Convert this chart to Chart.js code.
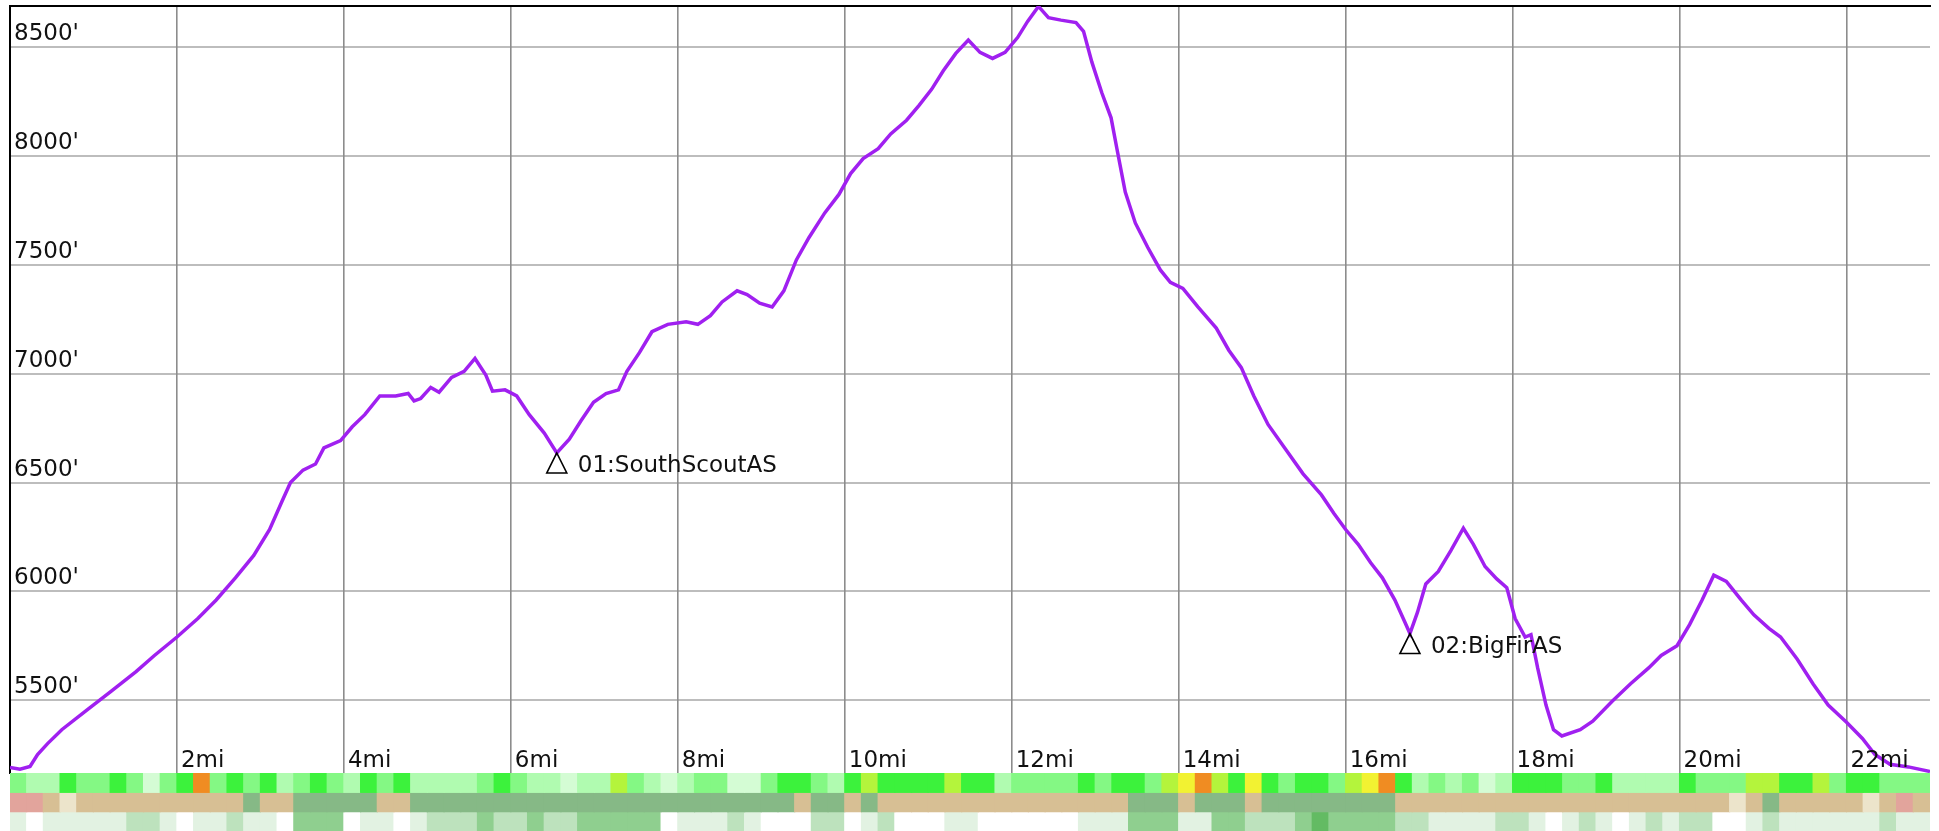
<!DOCTYPE html>
<html>
<head>
<meta charset="utf-8">
<script src="https://cdn.jsdelivr.net/npm/chart.js@4.4.1/dist/chart.umd.min.js"></script>
<style>
  html, body { margin: 0; padding: 0; background: #fff; overflow: hidden; }
</style>
</head>
<body>
<canvas id="profile" width="1939" height="831"></canvas>
<script>
// elevation profile, distance in miles / elevation in feet
var distMi = [0.00, 0.12, 0.24, 0.33, 0.45, 0.62, 0.92, 1.21, 1.51, 1.73,
  2.00, 2.25, 2.47, 2.70, 2.92, 3.11, 3.26, 3.36, 3.51, 3.66,
  3.76, 3.96, 4.10, 4.25, 4.43, 4.62, 4.77, 4.84, 4.92, 5.04,
  5.14, 5.29, 5.44, 5.57, 5.70, 5.78, 5.93, 6.07, 6.22, 6.40,
  6.55, 6.70, 6.84, 6.99, 7.14, 7.29, 7.39, 7.54, 7.69, 7.88,
  8.10, 8.24, 8.39, 8.53, 8.71, 8.83, 8.98, 9.13, 9.27, 9.42,
  9.57, 9.76, 9.93, 10.07, 10.22, 10.40, 10.55, 10.74, 10.89, 11.04,
  11.18, 11.33, 11.48, 11.62, 11.77, 11.92, 12.07, 12.19, 12.32, 12.44,
  12.59, 12.77, 12.86, 12.96, 13.08, 13.19, 13.26, 13.36, 13.48, 13.63,
  13.78, 13.90, 14.05, 14.23, 14.45, 14.60, 14.75, 14.90, 15.07, 15.27,
  15.49, 15.71, 15.86, 16.00, 16.15, 16.30, 16.44, 16.59, 16.71, 16.77,
  16.86, 16.96, 17.11, 17.26, 17.41, 17.53, 17.67, 17.81, 17.93, 18.03,
  18.15, 18.22, 18.30, 18.40, 18.49, 18.59, 18.81, 18.96, 19.19, 19.41,
  19.63, 19.78, 19.97, 20.12, 20.27, 20.41, 20.56, 20.74, 20.89, 21.07,
  21.21, 21.41, 21.60, 21.78, 22.00, 22.19, 22.34, 22.52, 22.74, 23.00];
var elevFt = [5190, 5182, 5195, 5250, 5300, 5364, 5454, 5540, 5631, 5705,
  5790, 5875, 5960, 6062, 6165, 6284, 6415, 6500, 6557, 6585,
  6659, 6693, 6756, 6812, 6898, 6898, 6909, 6875, 6886, 6937,
  6915, 6983, 7011, 7070, 6994, 6920, 6926, 6898, 6812, 6727,
  6636, 6699, 6784, 6869, 6909, 6926, 7011, 7097, 7193, 7227,
  7239, 7227, 7267, 7330, 7381, 7364, 7324, 7307, 7381, 7523,
  7625, 7739, 7824, 7920, 7989, 8034, 8102, 8165, 8233, 8307,
  8392, 8472, 8534, 8477, 8449, 8477, 8545, 8619, 8688, 8636,
  8625, 8614, 8574, 8432, 8290, 8176, 8034, 7835, 7693, 7580,
  7477, 7420, 7392, 7307, 7210, 7108, 7028, 6898, 6767, 6659,
  6540, 6443, 6358, 6284, 6216, 6131, 6062, 5960, 5858, 5806,
  5903, 6034, 6091, 6187, 6290, 6216, 6114, 6057, 6017, 5875,
  5790, 5801, 5648, 5477, 5364, 5335, 5364, 5403, 5494, 5574,
  5648, 5705, 5750, 5847, 5960, 6074, 6046, 5960, 5892, 5830,
  5790, 5688, 5574, 5477, 5398, 5324, 5250, 5205, 5193, 5172];

// axis ticks
var elevTicks = [5500, 6000, 6500, 7000, 7500, 8000, 8500];
var distTicks = [2, 4, 6, 8, 10, 12, 14, 16, 18, 20, 22];

// aid stations
var stationNames = ['01:SouthScoutAS', '02:BigFirAS'];
var stationMi = [6.55, 16.77];
var stationElev = [6636, 5806];

// strips below the profile, one code per 0.2 mi cell
var cellMi = 0.2;
var slopeCells = [2,1,1,3,2,2,3,2,0,2, 3,6,2,3,2,3,1,2,3,2, 1,3,2,3,1,1,1,1,2,3,
  2,1,1,0,1,1,4,2,1,0, 1,2,2,0,0,2,3,3,2,1, 3,4,3,3,3,3,4,3,3,1,
  2,2,2,2,3,2,3,3,2,4, 5,6,4,3,5,3,2,3,3,2, 4,5,6,3,1,2,1,2,0,1,
  3,3,3,2,2,3,1,1,1,1, 3,2,2,2,4,4,3,3,4,2, 3,3,2,2,2];
var coverCells = [2,2,0,3,0,0,0,0,0,0, 0,0,0,0,1,0,0,1,1,1, 1,1,0,0,1,1,1,1,1,1,
  1,1,1,1,1,1,1,1,1,1, 1,1,1,1,1,1,1,0,1,1, 0,1,0,0,0,0,0,0,0,0,
  0,0,0,0,0,0,0,1,1,1, 0,1,1,1,0,1,1,1,1,1, 1,1,1,0,0,0,0,0,0,0,
  0,0,0,0,0,0,0,0,0,0, 0,0,0,3,0,1,0,0,0,0, 0,3,0,2,0];
var canopyCells = [1,0,1,1,1,1,1,2,2,1, 0,1,1,2,1,1,0,3,3,3, 0,1,1,0,1,2,2,2,3,2,
  2,3,2,2,3,3,3,3,3,0, 1,1,1,2,1,0,0,0,2,2, 0,1,2,0,0,0,1,1,0,0,
  0,0,0,0,1,1,1,3,3,3, 1,1,3,3,2,2,2,3,4,3, 3,3,3,2,2,1,1,1,1,2,
  2,1,0,1,2,1,0,1,2,1, 2,2,0,0,1,2,1,1,1,1, 1,1,2,1,1];

var slopeColors = ['#d4fcd4', '#b0fbb0', '#84f884', '#3cf23c', '#b4f43c', '#f2f232', '#f08c22'];
var coverColors = ['#d7bf94', '#86b986', '#e2a49c', '#ece4cb'];
var canopyColors = ['#ffffff', '#e2f2e2', '#bde2bd', '#8fcf8f', '#63bb63'];

var FONT = '23px "DejaVu Sans"';

function stripDataset(cells, colors, lo, hi) {
  return {
    type: 'bar',
    xAxisID: 'x',
    yAxisID: 'ys',
    data: cells.map(function (c, i) { return { x: i * cellMi + cellMi / 2, y: [lo, hi] }; }),
    backgroundColor: cells.map(function (c) { return colors[c]; }),
    borderWidth: 0,
    barPercentage: 1,
    categoryPercentage: 1,
    grouped: false,
    inflateAmount: 0.6
  };
}

function fixedTicks(values) {
  return function (scale) {
    scale.ticks = values.map(function (v) { return { value: v }; });
  };
}

// tick labels sit inside the plot: above the grid line (y) and right of it (x)
var labelsPlugin = {
  id: 'profileLabels',
  afterDatasetsDraw: function (chart) {
    var ctx = chart.ctx, x = chart.scales.x, y = chart.scales.y;
    ctx.save();
    ctx.font = FONT;
    ctx.fillStyle = '#111';
    ctx.textBaseline = 'alphabetic';
    ctx.textAlign = 'left';
    y.ticks.forEach(function (t) {
      ctx.fillText(t.value + "'", x.left + 4, y.getPixelForValue(t.value) - 7);
    });
    x.ticks.forEach(function (t) {
      ctx.fillText(t.value + 'mi', x.getPixelForValue(t.value) + 4, y.bottom - 6);
    });
    // aid station markers
    ctx.strokeStyle = '#000';
    ctx.lineWidth = 1.6;
    stationNames.forEach(function (name, i) {
      var px = x.getPixelForValue(stationMi[i]);
      var py = y.getPixelForValue(stationElev[i]);
      ctx.beginPath();
      ctx.moveTo(px, py);
      ctx.lineTo(px - 10, py + 20);
      ctx.lineTo(px + 10, py + 20);
      ctx.closePath();
      ctx.stroke();
      ctx.fillText(name, px + 21, py + 19);
    });
    ctx.restore();
  }
};

new Chart(document.getElementById('profile'), {
  type: 'line',
  data: {
    datasets: [
      {
        label: 'elevation',
        xAxisID: 'x',
        yAxisID: 'y',
        data: distMi.map(function (d, i) { return { x: d, y: elevFt[i] }; }),
        borderColor: '#a020f0',
        borderWidth: 3.5,
        pointRadius: 0,
        tension: 0,
        fill: false
      },
      stripDataset(slopeCells, slopeColors, 2, 3),
      stripDataset(coverCells, coverColors, 1, 2),
      stripDataset(canopyCells, canopyColors, 0, 1)
    ]
  },
  options: {
    responsive: false,
    animation: false,
    layout: { autoPadding: false, padding: { left: 10, top: 6, right: 9, bottom: 0 } },
    plugins: { legend: { display: false }, tooltip: { enabled: false } },
    scales: {
      ys: {
        type: 'linear',
        position: 'left',
        stack: 'v',
        stackWeight: 58,
        min: 0,
        max: 3,
        ticks: { display: false },
        grid: { display: false, drawTicks: false },
        border: { display: false }
      },
      y: {
        type: 'linear',
        position: 'left',
        stack: 'v',
        stackWeight: 767,
        min: 5165,
        max: 8690,
        afterBuildTicks: fixedTicks(elevTicks),
        ticks: { display: false },
        grid: { color: '#bdbdbd', lineWidth: 2, drawTicks: false },
        border: { display: true, color: '#000', width: 2 }
      },
      x: {
        type: 'linear',
        position: 'bottom',
        min: 0,
        max: 23,
        offset: false,
        afterBuildTicks: fixedTicks(distTicks),
        ticks: { display: false },
        grid: { color: '#8c8c8c', lineWidth: 1.6, drawTicks: false, offset: false },
        border: { display: false }
      },
      x2: {
        type: 'linear',
        position: 'top',
        display: true,
        min: 0,
        max: 23,
        ticks: { display: false },
        grid: { display: false, drawTicks: false },
        border: { display: true, color: '#000', width: 2 }
      }
    }
  },
  plugins: [labelsPlugin]
});
</script>
</body>
</html>
